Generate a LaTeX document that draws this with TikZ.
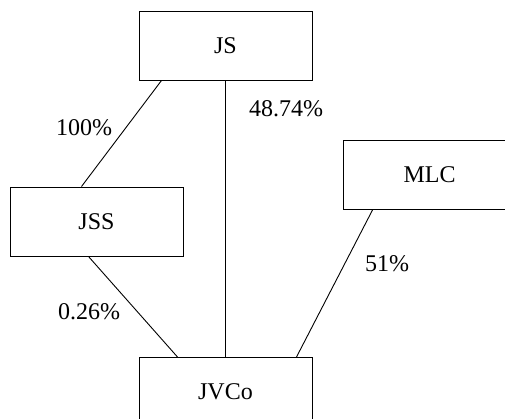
\documentclass[tikz,border=0pt]{standalone}
\usepackage{fontspec}
\setmainfont{Liberation Serif}
\usetikzlibrary{positioning}

\begin{document}
\begin{tikzpicture}[x=1pt, y=-1pt,
    entity/.style={draw, line width=1pt, minimum width=173pt, minimum height=69pt, inner sep=0pt},
    share/.style={inner sep=0pt},
    every node/.style={font=\fontsize{24}{28}\selectfont},
    link/.style={line width=0.9pt}]
    \useasboundingbox (0,0) rectangle (505,418);
    \clip (0,0) rectangle (505,418);
    % companies
    \node[entity] (js) at (225.5,45.5) {JS};
    \node[entity] (mlc) at (429.5,175) {MLC};
    \node[entity] (jss) at (96.5,221.5) {JSS};
    \node[entity] (jvco) at (225.5,392) {JVCo};
    % holdings
    \draw[link] ([xshift=23pt]js.south west) -- ([xshift=72pt]jss.north west);
    \draw[link] (js.south) -- (jvco.north);
    \draw[link] ([xshift=79pt]jss.south west) -- ([xshift=39pt]jvco.north west);
    \draw[link] ([xshift=30pt]mlc.south west) -- ([xshift=158pt]jvco.north west);
    % percentages
    \node[share] (p100) at (84,128) {100\%};
    \node[share] (p4874) at (286,109) {48.74\%};
    \node[share] (p51) at (387,264) {51\%};
    \node[share] (p026) at (89,312) {0.26\%};
\end{tikzpicture}
\end{document}
